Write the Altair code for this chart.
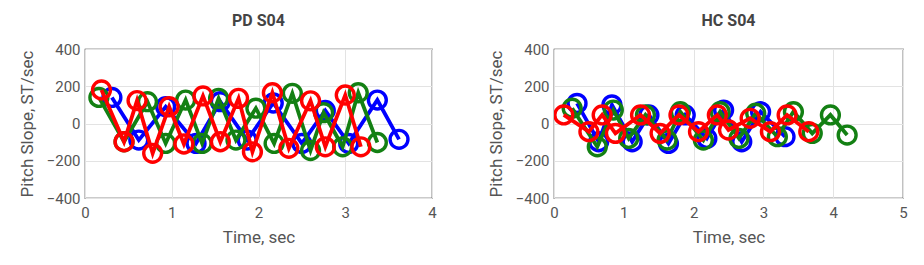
import altair as alt
import pandas as pd

# ---- PD S04 ----
pd_blue_t = [0.31, 0.62, 0.93, 1.28, 1.56, 1.87, 2.17, 2.50, 2.77, 3.04, 3.37, 3.62]
pd_blue_v = [140, -89, 90, -107, 117, -89, 110, -107, 70, -107, 126, -85]
pd_green_t = [0.16, 0.45, 0.72, 0.93, 1.16, 1.35, 1.54, 1.74, 1.97, 2.18, 2.39, 2.60, 2.75, 2.97, 3.15, 3.37]
pd_green_v = [140, -98, 117, -107, 126, -107, 135, -89, 82, -107, 162, -145, 58, -125, 165, -102]
pd_red_t = [0.19, 0.45, 0.60, 0.78, 0.97, 1.14, 1.36, 1.56, 1.77, 1.93, 2.16, 2.35, 2.60, 2.77, 3.00, 3.18]
pd_red_v = [180, -98, 123, -160, 90, -110, 148, -98, 135, -152, 165, -133, 122, -125, 153, -125]

# ---- HC S04 ----
hc_blue_t = [0.33, 0.64, 0.83, 1.12, 1.36, 1.64, 1.88, 2.19, 2.43, 2.69, 2.96, 3.31]
hc_blue_v = [108, -98, 100, -98, 46, -107, 46, -80, 72, -98, 63, -71]
hc_green_t = [0.26, 0.62, 0.85, 1.07, 1.31, 1.62, 1.81, 2.14, 2.38, 2.65, 2.89, 3.20, 3.43, 3.70, 3.96, 4.20]
hc_green_v = [82, -125, 72, -80, 46, -89, 63, -89, 63, -80, 55, -71, 63, -53, 46, -62]
hc_red_t = [0.14, 0.50, 0.69, 0.88, 1.24, 1.52, 1.79, 2.07, 2.34, 2.50, 2.81, 3.10, 3.34, 3.65]
hc_red_v = [46, -44, 46, -53, 46, -53, 46, -44, 46, -35, 28, -44, 46, -44]

series_names = ["blue", "green", "red"]
series_colors = ["#0000ff", "#138013", "#ff0000"]
y_ticks = [-400, -200, 0, 200, 400]

FONT = "Roboto"
GRAY = "#555555"


def df_of(t, v, name):
    return pd.DataFrame({"t": t, "v": v, "s": name})


def panel(title, sets, xmax, xticks, w):
    layers = []
    for (t, v), name, col in zip(sets, series_names, series_colors):
        d = df_of(t, v, name)
        base = alt.Chart(d).encode(
            x=alt.X("t:Q", scale=alt.Scale(domain=[0, xmax], nice=False),
                    axis=alt.Axis(values=xticks, title="Time, sec", format="d")),
            y=alt.Y("v:Q", scale=alt.Scale(domain=[-400, 400], nice=False),
                    axis=alt.Axis(values=y_ticks, title="Pitch Slope, ST/sec")),
        )
        layers.append(base.mark_line(color=col, strokeWidth=3.8, clip=True))
        layers.append(base.mark_point(color=col, filled=False, size=320,
                                      strokeWidth=3.4, opacity=1, clip=True))
    return alt.layer(*layers).properties(
        width=w, height=149,
        title=alt.TitleParams(title, fontSize=16, fontWeight="bold", font=FONT,
                              color="#444444", offset=13),
    )


left = panel("PD S04", [(pd_blue_t, pd_blue_v), (pd_green_t, pd_green_v), (pd_red_t, pd_red_v)],
             4, [0, 1, 2, 3, 4], 347)
right = panel("HC S04", [(hc_blue_t, hc_blue_v), (hc_green_t, hc_green_v), (hc_red_t, hc_red_v)],
              5, [0, 1, 2, 3, 4, 5], 349)

chart = alt.hconcat(left, right, spacing=49).properties(
    padding={"left": 9, "top": 4, "right": 2, "bottom": 0}
).configure_view(
    stroke="#333333", strokeWidth=1.2
).configure_axis(
    grid=True, gridColor="#e3e3e3", gridWidth=1,
    domain=False, ticks=True, tickSize=0,
    labelFont=FONT, titleFont=FONT, labelFontSize=15, titleFontSize=17,
    labelColor=GRAY, titleColor=GRAY, titleFontWeight="normal",
).configure_axisY(
    labelPadding=5, titlePadding=10, labelFlush=False,
).configure_axisX(
    labelPadding=7, titlePadding=9, labelFlush=False,
)

chart.save("out.html", embed_options={"renderer": "svg", "actions": False})
